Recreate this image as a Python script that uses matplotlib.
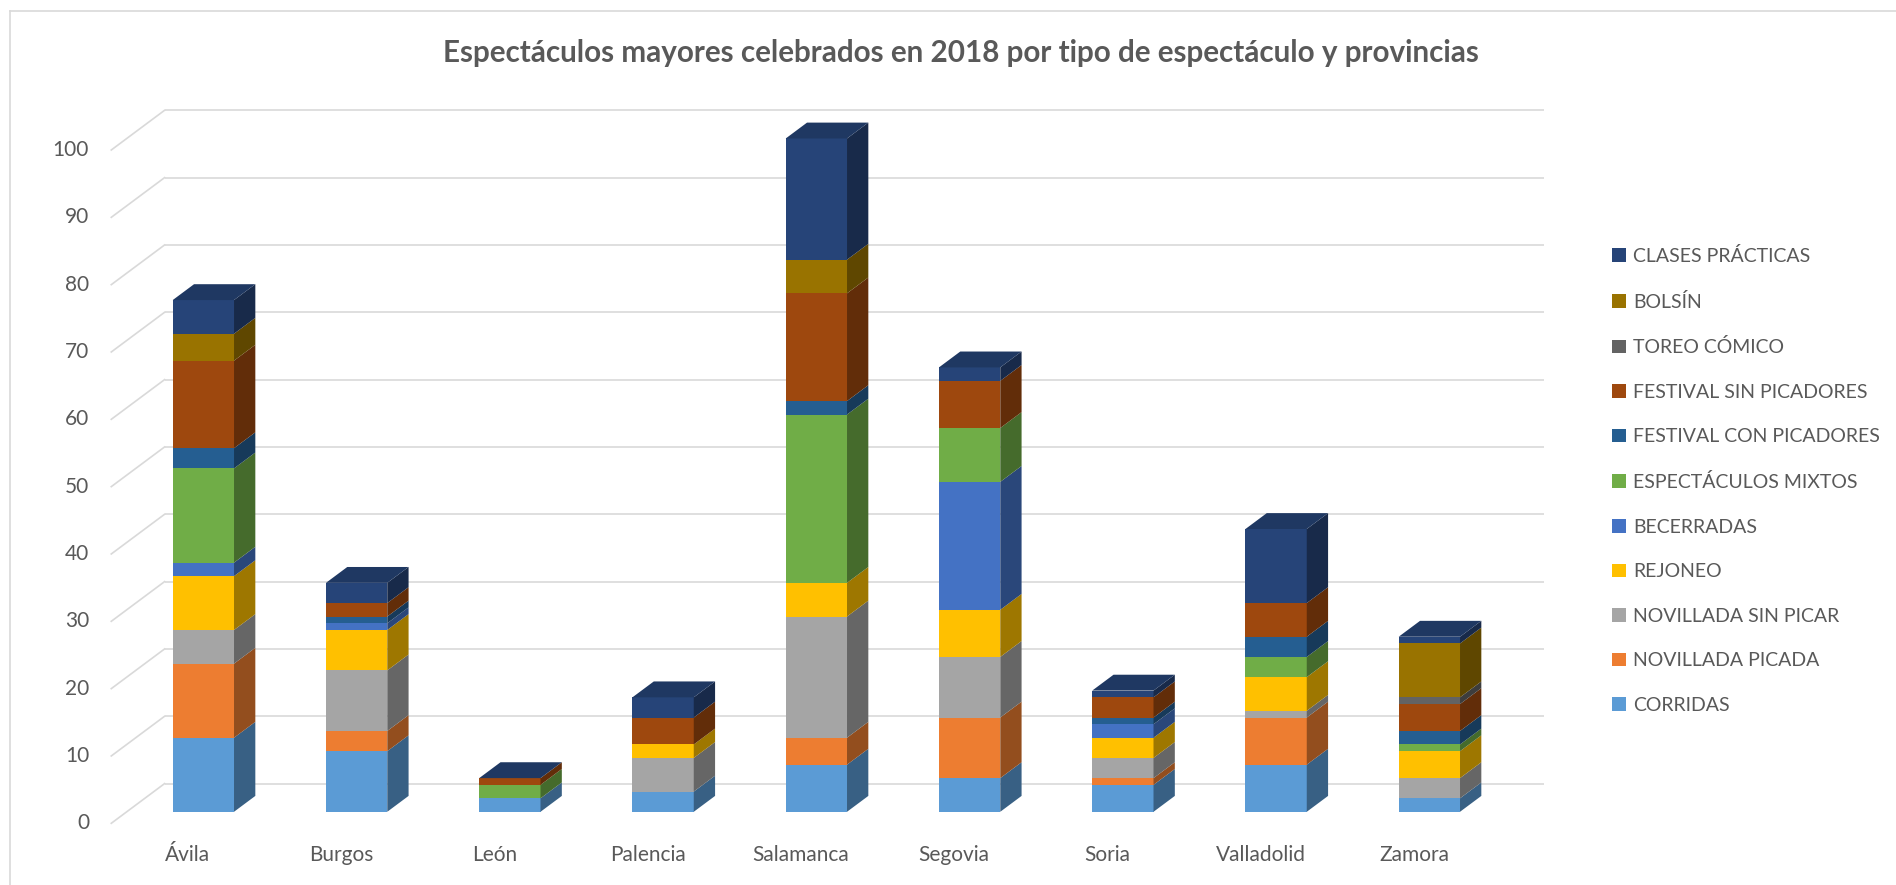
import matplotlib
matplotlib.use('Agg')
import matplotlib.pyplot as plt
from matplotlib.patches import Polygon, Patch
from matplotlib.lines import Line2D
import numpy as np

# Datos: espectáculos mayores 2018 por provincia
provincias = ['Ávila', 'Burgos', 'León', 'Palencia', 'Salamanca',
              'Segovia', 'Soria', 'Valladolid', 'Zamora']

corridas = [11, 9, 2, 3, 7, 5, 4, 7, 2]
novillada_picada = [11, 3, 0, 0, 4, 9, 1, 7, 0]
novillada_sin_picar = [5, 9, 0, 5, 18, 9, 3, 1, 3]
rejoneo = [8, 6, 0, 2, 5, 7, 3, 5, 4]
becerradas = [2, 1, 0, 0, 0, 19, 2, 0, 0]
mixtos = [14, 0, 2, 0, 25, 8, 0, 3, 1]
festival_con = [3, 1, 0, 0, 2, 0, 1, 3, 2]
festival_sin = [13, 2, 1, 4, 16, 7, 3, 5, 4]
toreo_comico = [0, 0, 0, 0, 0, 0, 0, 0, 1]
bolsin = [4, 0, 0, 0, 5, 0, 0, 0, 8]
clases_practicas = [5, 3, 0, 3, 18, 2, 1, 11, 1]

series = ['CORRIDAS', 'NOVILLADA PICADA', 'NOVILLADA SIN PICAR', 'REJONEO',
          'BECERRADAS', 'ESPECTÁCULOS MIXTOS', 'FESTIVAL CON PICADORES',
          'FESTIVAL SIN PICADORES', 'TOREO CÓMICO', 'BOLSÍN', 'CLASES PRÁCTICAS']
valores = [corridas, novillada_picada, novillada_sin_picar, rejoneo, becerradas,
           mixtos, festival_con, festival_sin, toreo_comico, bolsin, clases_practicas]
colores = ['#5B9BD5', '#ED7D31', '#A5A5A5', '#FFC000', '#4472C4', '#70AD47',
           '#255E91', '#9E480E', '#636363', '#997300', '#264478']

ticks_y = list(range(0, 101, 10))

TEXTO = '#595959'
REJILLA = '#D9D9D9'
plt.rcParams['font.family'] = ['Lato', 'DejaVu Sans']

# Lienzo en píxeles
W, H, DPI = 1896, 885, 100
fig = plt.figure(figsize=(W / DPI, H / DPI), dpi=DPI)
ax = fig.add_axes([0, 0, 1, 1])
ax.axis('off')

# Escalas: plano frontal del suelo
X0, PX_CAT = 187.9, 153.25     # px del centro de la 1a categoría, px por categoría
Y0, PX_VAL = 823.3, 6.733      # px (desde arriba) del valor 0, px por unidad
ax.set_xlim(-X0 / PX_CAT, (W - X0) / PX_CAT)
ax.set_ylim(-(H - Y0) / PX_VAL, Y0 / PX_VAL)

# Perspectiva (profundidad completa del suelo)
DX, DV = 53.3 / PX_CAT, 39.7 / PX_VAL
D0, D1 = 0.29, 0.69            # profundidad de la cara frontal y trasera de las barras
ANCHO = 0.4
n = len(provincias)
x = np.arange(n)

def oscurecer(c, f):
    r, g, b = matplotlib.colors.to_rgb(c)
    return (r * f, g * f, b * f)

# Rejilla: pared del fondo y pared lateral izquierda
xl, xr = -0.5, n - 0.5
for v in ticks_y:
    ax.plot([xl + DX, xr + DX], [v + DV, v + DV], color=REJILLA, lw=1.2, zorder=1,
            solid_capstyle='butt')
    ax.plot([xl, xl + DX], [v, v + DV], color=REJILLA, lw=1.2, zorder=1)
    ax.text(xl - 0.145, v, str(v), ha='right', va='center', fontsize=15, color=TEXTO)

# Barras apiladas con caras laterales
dd = D1 - D0
xf = x + D0 * DX
base = np.zeros(n)
for nombre, vals, c in zip(series, valores, colores):
    vals = np.array(vals, dtype=float)
    ax.bar(xf, vals, width=ANCHO, bottom=base + D0 * DV, color=c, linewidth=0,
           zorder=3, label=nombre)
    for i in range(n):
        if vals[i] <= 0:
            continue
        b = base[i] + D0 * DV
        t = b + vals[i]
        xd = xf[i] + ANCHO / 2
        lado = Polygon([(xd, b), (xd, t), (xd + dd * DX, t + dd * DV), (xd + dd * DX, b + dd * DV)],
                       closed=True, facecolor=oscurecer(c, 0.62), edgecolor='none', zorder=3)
        ax.add_patch(lado)
    base += vals

# Cara superior: siempre con el color de la última serie (como en Excel)
techo_c = oscurecer(colores[-1], 0.82)
for i in range(n):
    t = base[i] + D0 * DV
    xi, xd = xf[i] - ANCHO / 2, xf[i] + ANCHO / 2
    techo = Polygon([(xi, t), (xd, t), (xd + dd * DX, t + dd * DV), (xi + dd * DX, t + dd * DV)],
                    closed=True, facecolor=techo_c, edgecolor='none', zorder=3)
    ax.add_patch(techo)

# Etiquetas de categorías
for i, p in enumerate(provincias):
    ax.text(i, -4.7, p, ha='center', va='center', fontsize=15, color=TEXTO)

# Título
fig.text(961 / W, 1 - 53 / H,
         'Espectáculos mayores celebrados en 2018 por tipo de espectáculo y provincias',
         ha='center', va='center', fontsize=21.3, fontweight='bold', color=TEXTO)

# Leyenda (orden inverso)
handles = [Patch(facecolor=c, edgecolor='none') for c in colores[::-1]]
fig.legend(handles, series[::-1], loc='upper left',
           bbox_to_anchor=(1612 / W, 1 - 247 / H), frameon=False, fontsize=14,
           handlelength=0.7, handleheight=0.7, handletextpad=0.4,
           labelspacing=1.42, borderpad=0, borderaxespad=0, labelcolor=TEXTO)

# Borde del área del gráfico
fig.add_artist(Line2D([10 / W, 10 / W], [0, 1 - 11 / H], transform=fig.transFigure,
                      color=REJILLA, lw=1.2))
fig.add_artist(Line2D([10 / W, 1], [1 - 11 / H, 1 - 11 / H], transform=fig.transFigure,
                      color=REJILLA, lw=1.2))

fig.savefig('out.png', dpi=DPI, facecolor='white')
plt.close(fig)
